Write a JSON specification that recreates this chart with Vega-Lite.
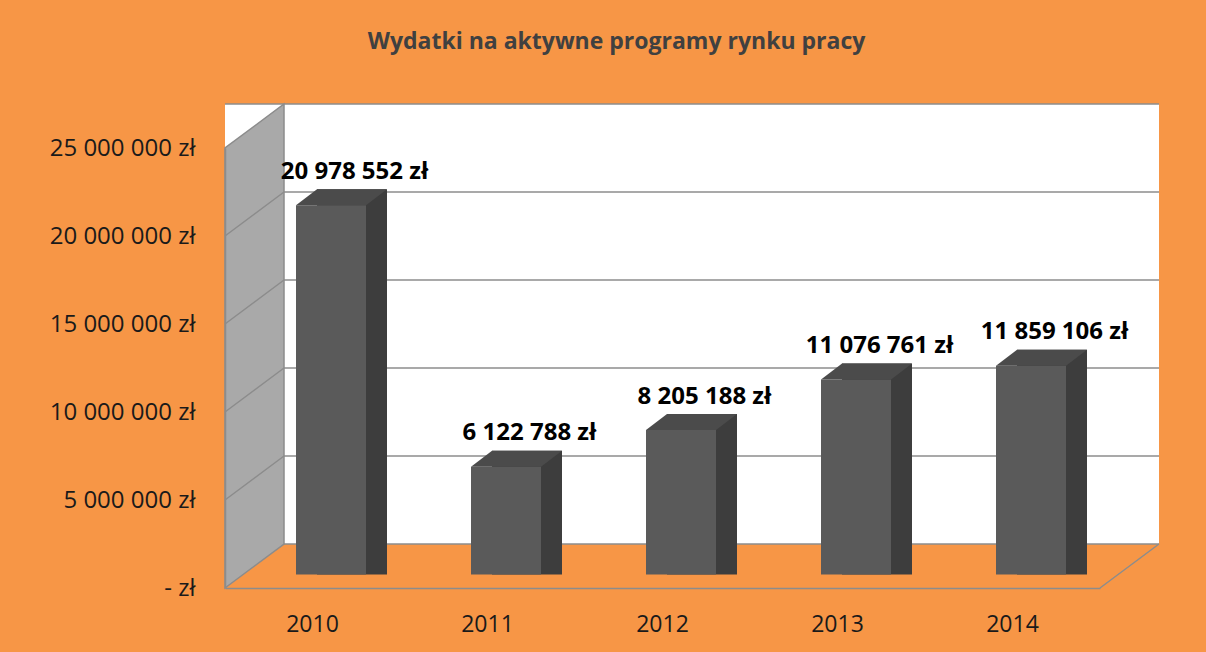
{
  "$schema": "https://vega.github.io/schema/vega-lite/v6.json",
  "width": 875,
  "height": 440,
  "autosize": {"type": "none"},
  "padding": {"left": 225, "top": 148, "right": 106, "bottom": 64},
  "background": "#F79646",
  "config": {
    "locale": {"number": {"decimal": ",", "thousands": " ", "grouping": [3], "currency": ["", " zł"]}},
    "view": {"stroke": null},
    "font": "Open Sans"
  },
  "title": {
    "text": "Wydatki na aktywne programy rynku pracy",
    "anchor": "middle",
    "frame": "group",
    "dx": -46,
    "offset": 47,
    "font": "Open Sans",
    "fontSize": 23,
    "fontWeight": "bold",
    "color": "#404040"
  },
  "datasets": {
    "expenses": [
      {"year": "2010", "value": 20978552},
      {"year": "2011", "value": 6122788},
      {"year": "2012", "value": 8205188},
      {"year": "2013", "value": 11076761},
      {"year": "2014", "value": 11859106}
    ],
    "ticks": [
      {"value": 0},
      {"value": 5000000},
      {"value": 10000000},
      {"value": 15000000},
      {"value": 20000000},
      {"value": 25000000}
    ]
  },
  "resolve": {"axis": {"x": "independent", "y": "independent"}},
  "layer": [
    {
      "data": {"name": "ticks"},
      "transform": [{"filter": "datum.value == 0"}],
      "mark": {"type": "rect", "fill": "white", "xOffset": 59, "x2Offset": 59, "yOffset": -44, "y2Offset": -44},
      "encoding": {
        "y": {"datum": 0, "type": "quantitative", "axis": null},
        "y2": {"datum": 25000000}
      }
    },
    {
      "data": {"name": "ticks"},
      "mark": {"type": "rule", "stroke": "#8c8c8c", "strokeWidth": 1.5, "xOffset": 59, "x2Offset": 59, "yOffset": -44},
      "encoding": {
        "y": {"field": "value", "type": "quantitative", "axis": null}
      }
    },
    {
      "data": {"name": "ticks"},
      "transform": [{"filter": "datum.value == 0"}],
      "mark": {"type": "point", "shape": "M-437.5,0 L-378.5,-44 L-378.5,-484 L-437.5,-440 Z", "size": 4, "filled": true, "fill": "#a9a9a9", "stroke": "#8c8c8c", "strokeWidth": 1.5, "opacity": 1},
      "encoding": {
        "y": {"field": "value", "type": "quantitative", "axis": null}
      }
    },
    {
      "data": {"name": "ticks"},
      "transform": [{"filter": "datum.value == 0"}],
      "mark": {"type": "point", "shape": "M-437.5,-88 L-378.5,-132 M-437.5,-176 L-378.5,-220 M-437.5,-264 L-378.5,-308 M-437.5,-352 L-378.5,-396 M437.5,0 L496.5,-44", "size": 4, "filled": false, "stroke": "#8c8c8c", "strokeWidth": 1.5, "opacity": 1},
      "encoding": {
        "y": {"field": "value", "type": "quantitative", "axis": null}
      }
    },
    {
      "data": {"name": "expenses"},
      "mark": {"type": "bar", "color": "#3d3d3d", "width": 70, "xOffset": 39.5, "yOffset": -29.5, "y2Offset": -13.5},
      "encoding": {
        "x": {"field": "year", "type": "ordinal", "scale": {"paddingInner": 0, "paddingOuter": 0}, "axis": null},
        "y": {"field": "value", "type": "quantitative", "axis": null},
        "y2": {"datum": 0}
      }
    },
    {
      "data": {"name": "expenses"},
      "mark": {"type": "bar", "color": "#5a5a5a", "width": 70, "xOffset": 18.5, "yOffset": -13.5, "y2Offset": -13.5},
      "encoding": {
        "x": {
          "field": "year",
          "type": "ordinal",
          "scale": {"paddingInner": 0, "paddingOuter": 0},
          "axis": {"title": null, "labelAngle": 0, "ticks": false, "domainColor": "#8c8c8c", "domainWidth": 1.5, "labelFontSize": 23, "labelColor": "#1a1a1a", "labelPadding": 25, "labelFont": "Open Sans", "zindex": 1}
        },
        "y": {
          "field": "value",
          "type": "quantitative",
          "scale": {"domain": [0, 25000000], "nice": false},
          "axis": {"title": null, "values": [0, 5000000, 10000000, 15000000, 20000000, 25000000], "format": "$,.0f", "labelExpr": "datum.value == 0 ? '- zł' : datum.label", "grid": false, "ticks": false, "domainColor": "#8c8c8c", "domainWidth": 1.5, "labelFontSize": 24, "labelPadding": 30, "labelColor": "#1a1a1a", "labelFont": "Open Sans", "zindex": 1}
        }
      }
    },
    {
      "data": {"name": "expenses"},
      "mark": {"type": "point", "shape": "M-35,0 L35,0 L56,-16 L-14,-16 Z", "size": 4, "filled": true, "fill": "#4b4b4b", "strokeWidth": 0, "opacity": 1, "xOffset": 18.5, "yOffset": -13.5},
      "encoding": {
        "x": {"field": "year", "type": "ordinal", "axis": null},
        "y": {"field": "value", "type": "quantitative", "axis": null}
      }
    },
    {
      "data": {"name": "expenses"},
      "mark": {"type": "text", "font": "Open Sans", "fontSize": 24, "fontWeight": "bold", "color": "#000000", "baseline": "middle", "align": "center", "xOffset": 42, "yOffset": -47},
      "encoding": {
        "x": {"field": "year", "type": "ordinal", "axis": null},
        "y": {"field": "value", "type": "quantitative", "axis": null},
        "text": {"field": "value", "type": "quantitative", "format": "$,.0f"}
      }
    }
  ]
}
